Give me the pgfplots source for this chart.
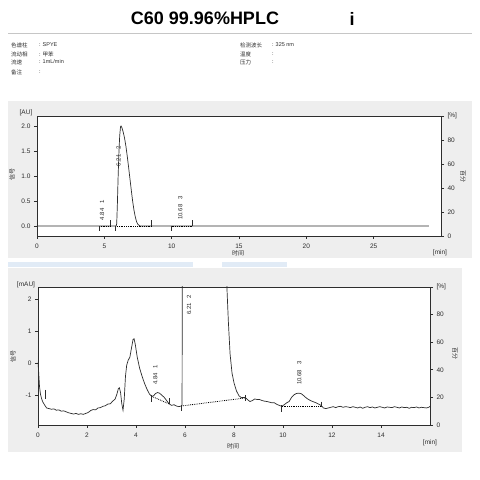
\documentclass[border=0pt]{standalone}
\usepackage{pgfplots}
\pgfplotsset{compat=1.18}
\usepackage{fontspec}
\setmainfont{Liberation Sans}
\newfontfamily\cjk{Noto Sans CJK SC}
\definecolor{panel}{RGB}{238,238,238}
\definecolor{ink}{RGB}{45,45,45}
\definecolor{wm}{RGB}{205,222,240}
\pgfplotsset{
  chrom/.style={
    scale only axis, axis background/.style={fill=white},
    axis line style={ink, line width=0.8pt},
    tick style={ink, line width=0.6pt},
    tick align=outside, major tick length=3pt,
    tick pos=left,
    ticklabel style={font=\fontsize{6.5}{7}\selectfont, text=ink},
    /pgf/number format/assume math mode=true,
    xticklabel style={yshift=-1pt},
    clip=true,
  },
  pct/.style={
    scale only axis, axis x line=none, axis y line*=right,
    axis line style={ink, line width=0.8pt},
    tick style={ink, line width=0.6pt},
    tick align=outside, major tick length=3pt,
    ymin=0, ymax=100, ytick={0,20,40,60,80,100},
    yticklabels={0,20,40,60,80,{[\%]}},
    ticklabel style={font=\fontsize{6.5}{7}\selectfont, text=ink},
    /pgf/number format/assume math mode=true,
  },
}
\tikzset{
  sig/.style={ink, line width=0.7pt},
  mk/.style={ink, line width=0.6pt},
  bl/.style={black, densely dotted, line width=0.8pt},
  lab/.style={rotate=90, font=\fontsize{6}{7}\selectfont, text=ink, inner sep=0pt},
}
\begin{document}
\begin{tikzpicture}[x=1pt,y=1pt]
\useasboundingbox (0pt,0pt) rectangle (480pt,480pt);
\fill[white] (0pt,0pt) rectangle (480pt,480pt);
% title
\node[font=\fontsize{18}{20}\selectfont\bfseries, text=black] at (205pt,462pt) {C60 99.96\%HPLC};
\node[font=\fontsize{18}{20}\selectfont\bfseries, text=black] at (352pt,461pt) {i};
\draw[gray!45, line width=0.6pt] (8pt,447pt) -- (472pt,447pt);
% info
\begin{scope}[every node/.style={anchor=west, inner sep=0pt, font=\fontsize{5.5}{6}\selectfont, text=ink}]
\node at (11pt,435pt) {\cjk 色谱柱};
\node at (11pt,426pt) {\cjk 流动相};
\node at (11pt,418pt) {\cjk 流速};
\node at (11pt,408pt) {\cjk 备注};
\node at (39pt,435pt) {:\hspace{2pt}SPYE};
\node at (39pt,426pt) {:\hspace{2pt}{\cjk 甲苯}};
\node at (39pt,418pt) {:\hspace{2pt}1mL/min};
\node at (39pt,408pt) {:};
\node at (240pt,435pt) {\cjk 检测波长};
\node at (240pt,426pt) {\cjk 温度};
\node at (240pt,418pt) {\cjk 压力};
\node at (272pt,435pt) {:\hspace{2pt}325 nm};
\node at (272pt,426pt) {:};
\node at (272pt,418pt) {:};
\end{scope}
% panels
\fill[panel] (8pt,222pt) rectangle (472pt,379pt);
\fill[panel] (8pt,28pt) rectangle (462pt,212pt);
\fill[wm, opacity=0.6] (8pt,213pt) rectangle (193pt,218pt);
\fill[wm, opacity=0.6] (222pt,213pt) rectangle (287pt,218pt);

% ===== top panel =====
\begin{axis}[chrom, at={(37pt,244pt)}, anchor=south west, width=404pt, height=120pt,
  xmin=0, xmax=30, ymin=-0.2, ymax=2.2,
  xtick={0,5,10,15,20,25}, ytick={0,0.5,1,1.5,2},
  yticklabel style={/pgf/number format/.cd, fixed, fixed zerofill, precision=1}]
\addplot[sig] coordinates {(0,0) (5.88,0) (5.92,0.05) (5.97,0.45) (6.02,0.95) (6.08,1.45) (6.14,1.8) (6.2,1.98) (6.24,2.0) (6.3,1.97) (6.4,1.88) (6.5,1.76) (6.6,1.6) (6.7,1.4) (6.8,1.18) (6.9,0.95) (7.0,0.72) (7.1,0.5) (7.2,0.32) (7.3,0.18) (7.4,0.08) (7.5,0.03) (7.65,0) (29.1,0)};
\addplot[bl] coordinates {(4.6,0) (5.43,0)};
\addplot[bl] coordinates {(5.81,0) (8.5,0)};
\addplot[bl] coordinates {(10.0,0) (11.56,0)};
\addplot[mk] coordinates {(4.6,0) (4.6,-0.11)};
\addplot[mk] coordinates {(5.43,0) (5.43,0.11)};
\addplot[mk] coordinates {(5.81,0) (5.81,-0.11)};
\addplot[mk] coordinates {(8.5,0) (8.5,0.11)};
\addplot[mk] coordinates {(10.0,0) (10.0,-0.11)};
\addplot[mk] coordinates {(11.56,0) (11.56,0.11)};
\node[lab] at (axis cs:4.84,0.32) {4.84\hspace{5pt}1};
\node[lab] at (axis cs:6.06,1.4) {6.21\hspace{5pt}2};
\node[lab] at (axis cs:10.64,0.36) {10.68\hspace{5pt}3};
\end{axis}
\begin{axis}[pct, at={(37pt,244pt)}, anchor=south west, width=404pt, height=120pt, xmin=0, xmax=30]
\end{axis}
\node[font=\fontsize{6.5}{7}\selectfont, text=ink] at (26pt,367pt) {[AU]};
\node[font=\fontsize{6}{7}\selectfont\cjk, text=ink, rotate=90] at (12pt,305pt) {信号};
\node[font=\fontsize{6}{7}\selectfont\cjk, text=ink] at (238pt,227pt) {时间};
\node[font=\fontsize{6.5}{7}\selectfont, text=ink] at (440pt,227pt) {[min]};
\node[font=\fontsize{6}{7}\selectfont\cjk, text=ink, rotate=-90] at (463pt,303pt) {百分};

% ===== bottom panel =====
\begin{axis}[chrom, at={(38pt,55pt)}, anchor=south west, width=392pt, height=138pt,
  xmin=0, xmax=16, ymin=-1.91, ymax=2.38,
  xtick={0,2,4,6,8,10,12,14}, ytick={-1,0,1,2}]
\addplot[sig] coordinates {
(0.00,0.05) (0.03,-0.3) (0.06,-0.7) (0.10,-0.95) (0.15,-1.1) (0.20,-1.2) (0.28,-1.3) (0.35,-1.38)
(0.45,-1.40) (0.55,-1.42) (0.65,-1.41) (0.75,-1.45) (0.85,-1.44) (0.95,-1.48) (1.05,-1.47) (1.15,-1.50)
(1.25,-1.53) (1.35,-1.55) (1.45,-1.57) (1.55,-1.55) (1.65,-1.58) (1.75,-1.56) (1.85,-1.58) (1.95,-1.55)
(2.05,-1.52) (2.15,-1.46) (2.25,-1.43) (2.35,-1.44) (2.45,-1.38) (2.55,-1.37) (2.65,-1.33) (2.75,-1.31)
(2.85,-1.26) (2.95,-1.25) (3.05,-1.17) (3.15,-1.10) (3.22,-0.95) (3.28,-0.78) (3.32,-0.75) (3.37,-0.9)
(3.42,-1.25) (3.47,-1.45) (3.52,-1.1) (3.57,-0.4) (3.62,-0.05) (3.68,0.1) (3.75,0.2) (3.82,0.5)
(3.88,0.75) (3.92,0.77) (3.97,0.6) (4.05,0.2) (4.15,-0.15) (4.25,-0.4) (4.35,-0.62) (4.45,-0.8)
(4.55,-0.95) (4.64,-1.02) (4.72,-1.00) (4.80,-0.93) (4.88,-0.90) (4.96,-0.92) (5.05,-0.98) (5.15,-1.05)
(5.25,-1.15) (5.35,-1.25) (5.45,-1.30) (5.55,-1.28) (5.65,-1.32) (5.75,-1.34) (5.84,-1.32) (5.88,-1.3)
(5.89,3.0) (7.68,3.0) (7.72,2.2) (7.77,1.3) (7.84,0.3) (7.92,-0.3) (8.0,-0.6) (8.1,-0.85)
(8.2,-1.0) (8.3,-1.06) (8.45,-1.05) (8.55,-1.12) (8.65,-1.18) (8.75,-1.15) (8.85,-1.10) (8.95,-1.12)
(9.05,-1.12) (9.15,-1.15) (9.25,-1.17) (9.35,-1.18) (9.45,-1.20) (9.55,-1.22) (9.65,-1.22) (9.75,-1.27)
(9.85,-1.30) (9.95,-1.33) (10.05,-1.28) (10.15,-1.22) (10.25,-1.18) (10.35,-1.05) (10.45,-0.97) (10.55,-0.93)
(10.65,-0.92) (10.75,-0.94) (10.85,-1.0) (10.95,-1.07) (11.05,-1.12) (11.15,-1.16) (11.25,-1.19) (11.35,-1.22)
(11.45,-1.26) (11.55,-1.30) (11.65,-1.38) (11.75,-1.40) (11.85,-1.38) (11.95,-1.36) (12.05,-1.34) (12.15,-1.37)
(12.25,-1.34) (12.35,-1.33) (12.45,-1.36) (12.55,-1.34) (12.65,-1.35) (12.75,-1.37) (12.85,-1.34) (12.95,-1.36)
(13.05,-1.38) (13.15,-1.35) (13.25,-1.39) (13.35,-1.36) (13.45,-1.34) (13.55,-1.37) (13.65,-1.35) (13.75,-1.38)
(13.85,-1.36) (13.95,-1.34) (14.05,-1.36) (14.15,-1.38) (14.25,-1.35) (14.35,-1.36) (14.45,-1.37) (14.55,-1.34)
(14.65,-1.36) (14.75,-1.38) (14.85,-1.35) (14.95,-1.37) (15.05,-1.36) (15.15,-1.39) (15.25,-1.36) (15.35,-1.37)
(15.45,-1.35) (15.55,-1.38) (15.65,-1.36) (15.75,-1.37) (15.85,-1.38) (15.95,-1.36) (16.0,-1.33)};
\addplot[bl] coordinates {(4.64,-1.02) (5.37,-1.26)};
\addplot[bl] coordinates {(5.85,-1.32) (8.45,-1.07)};
\addplot[bl] coordinates {(9.95,-1.33) (11.55,-1.33)};
\addplot[mk] coordinates {(0.28,-0.82) (0.28,-1.11)};
\addplot[mk] coordinates {(4.64,-0.97) (4.64,-1.21)};
\addplot[mk] coordinates {(5.37,-1.08) (5.37,-1.27)};
\addplot[mk] coordinates {(5.85,-1.3) (5.85,-1.47)};
\addplot[mk] coordinates {(8.45,-0.97) (8.45,-1.15)};
\addplot[mk] coordinates {(9.95,-1.29) (9.95,-1.52)};
\addplot[mk] coordinates {(11.55,-1.18) (11.55,-1.36)};
\node[lab] at (axis cs:4.79,-0.35) {4.84\hspace{5pt}1};
\node[lab] at (axis cs:6.17,1.83) {6.21\hspace{5pt}2};
\node[lab] at (axis cs:10.67,-0.3) {10.68\hspace{5pt}3};
\end{axis}
\begin{axis}[pct, at={(38pt,55pt)}, anchor=south west, width=392pt, height=138pt, xmin=0, xmax=16]
\end{axis}
\node[font=\fontsize{6.5}{7}\selectfont, text=ink] at (26pt,195pt) {[mAU]};
\node[font=\fontsize{6}{7}\selectfont\cjk, text=ink, rotate=90] at (13pt,123pt) {信号};
\node[font=\fontsize{6}{7}\selectfont\cjk, text=ink] at (233pt,34pt) {时间};
\node[font=\fontsize{6.5}{7}\selectfont, text=ink] at (430pt,37pt) {[min]};
\node[font=\fontsize{6}{7}\selectfont\cjk, text=ink, rotate=-90] at (455pt,126pt) {百分};
\end{tikzpicture}
\end{document}
